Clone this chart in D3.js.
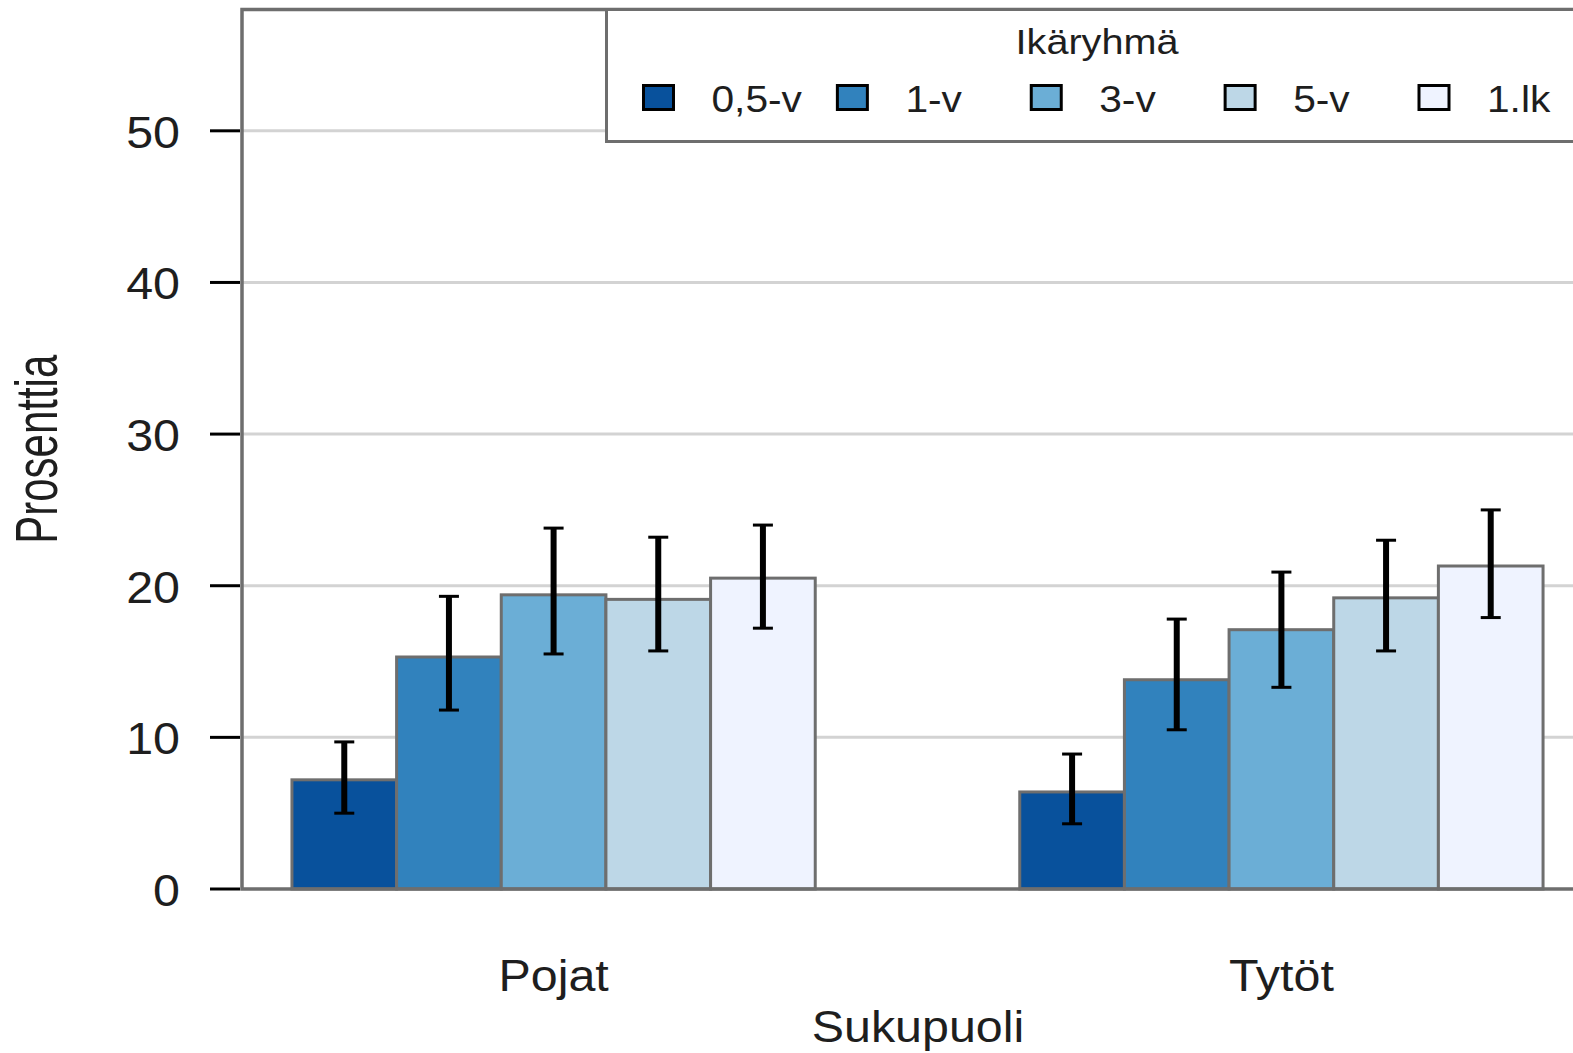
<!DOCTYPE html>
<html>
<head>
<meta charset="utf-8">
<script src="https://cdn.jsdelivr.net/npm/d3@7"></script>
<style>
  html, body { margin: 0; padding: 0; background: #fff; overflow: hidden; }
  svg text { font-family: "Liberation Sans", Arial, sans-serif; fill: #1e1e1e; }
</style>
</head>
<body>
<div id="chart"></div>
<script>
// groups, series and values
const groups  = ["Pojat", "Tytöt"];
const ages    = ["0,5-v", "1-v", "3-v", "5-v", "1.lk"];
const colors  = ["#08519c", "#3182bd", "#6baed6", "#bdd7e7", "#eff3ff"];
const pojat   = [7.2, 15.3, 19.4, 19.1, 20.5];
const pojatLo = [5.0, 11.8, 15.5, 15.7, 17.2];
const pojatHi = [9.7, 19.3, 23.8, 23.2, 24.0];
const tytot   = [6.4, 13.8, 17.1, 19.2, 21.3];
const tytotLo = [4.3, 10.5, 13.3, 15.7, 17.9];
const tytotHi = [8.9, 17.8, 20.9, 23.0, 25.0];
const yTicks  = [0, 10, 20, 30, 40, 50];

const rows = [];
groups.forEach((g, gi) => {
  const v  = gi === 0 ? pojat : tytot;
  const lo = gi === 0 ? pojatLo : tytotLo;
  const hi = gi === 0 ? pojatHi : tytotHi;
  ages.forEach((a, i) => rows.push({ group: g, age: a, value: v[i], lo: lo[i], hi: hi[i] }));
});

const W = 1573, H = 1053;
const plot = { left: 242, right: 1594, top: 9.5, bottom: 889 };
const grey = "#6e6e6e";
const SX = 1.1; // text in the picture runs a bit wide

const svg = d3.select("#chart").append("svg").attr("width", W).attr("height", H);

const x0 = d3.scaleBand().domain(groups).range([241, plot.right]).paddingInner(0.281).paddingOuter(0.07);
const x1 = d3.scaleBand().domain(ages).range([0, x0.bandwidth()]);
const y  = d3.scaleLinear().domain([0, 58]).range([plot.bottom, plot.top]);
const color = d3.scaleOrdinal().domain(ages).range(colors);

function label(g, txt, x, yy, size, anchor) {
  return g.append("text")
    .attr("transform", `translate(${x},${yy}) scale(${SX},1)`)
    .attr("text-anchor", anchor || "middle")
    .style("font-size", size + "px")
    .text(txt);
}

// grid
svg.append("g").selectAll("line").data(yTicks.filter(t => t > 0)).join("line")
  .attr("x1", plot.left).attr("x2", plot.right)
  .attr("y1", d => y(d)).attr("y2", d => y(d))
  .attr("stroke", "#d3d3d3").attr("stroke-width", 3);

// bars
svg.append("g").selectAll("rect").data(rows).join("rect")
  .attr("x", d => x0(d.group) + x1(d.age))
  .attr("y", d => y(d.value))
  .attr("width", x1.bandwidth())
  .attr("height", d => y(0) - y(d.value))
  .attr("fill", d => color(d.age))
  .attr("stroke", grey).attr("stroke-width", 3);

// error bars
const eb = svg.append("g").attr("stroke", "#000");
const cx = d => x0(d.group) + x1(d.age) + x1.bandwidth() / 2;
eb.selectAll(".stem").data(rows).join("line").attr("class", "stem")
  .attr("x1", cx).attr("x2", cx)
  .attr("y1", d => y(d.lo)).attr("y2", d => y(d.hi))
  .attr("stroke-width", 6);
eb.selectAll(".capHi").data(rows).join("line").attr("class", "capHi")
  .attr("x1", d => cx(d) - 10).attr("x2", d => cx(d) + 10)
  .attr("y1", d => y(d.hi)).attr("y2", d => y(d.hi))
  .attr("stroke-width", 3);
eb.selectAll(".capLo").data(rows).join("line").attr("class", "capLo")
  .attr("x1", d => cx(d) - 10).attr("x2", d => cx(d) + 10)
  .attr("y1", d => y(d.lo)).attr("y2", d => y(d.lo))
  .attr("stroke-width", 3);

// frame
svg.append("path")
  .attr("d", `M${plot.right},${plot.top}H${plot.left}V${plot.bottom}H${plot.right}`)
  .attr("fill", "none").attr("stroke", grey).attr("stroke-width", 3.5);

// y axis ticks + labels
const ya = svg.append("g");
ya.selectAll("line").data(yTicks).join("line")
  .attr("x1", 210).attr("x2", plot.left - 2)
  .attr("y1", d => y(d)).attr("y2", d => y(d))
  .attr("stroke", "#000").attr("stroke-width", 3);
yTicks.forEach(t => label(ya, String(t), 180, y(t) + 17, 44, "end"));

// x labels
groups.forEach(g => label(svg, g, x0(g) + x0.bandwidth() / 2, 991, 44));
label(svg, "Sukupuoli", (plot.left + plot.right) / 2, 1042, 44);

svg.append("text")
  .attr("transform", `translate(57,${(plot.top + plot.bottom) / 2}) rotate(-90) scale(1,1.43)`)
  .attr("text-anchor", "middle")
  .style("font-size", "42px")
  .text("Prosenttia");

// legend
const lg = svg.append("g");
lg.append("rect")
  .attr("x", 606.5).attr("y", plot.top)
  .attr("width", plot.right - 606.5).attr("height", 141.5 - plot.top)
  .attr("fill", "#fff").attr("stroke", grey).attr("stroke-width", 3);
label(lg, "Ikäryhmä", 1097, 54, 36);
const lx = d3.scalePoint().domain(ages).range([658.5, 1434]);
ages.forEach(a => {
  lg.append("rect")
    .attr("x", lx(a) - 15).attr("y", 85.5)
    .attr("width", 30).attr("height", 24)
    .attr("fill", color(a)).attr("stroke", "#000").attr("stroke-width", 3);
  label(lg, a, lx(a) + 53, 112, 37, "start");
});
</script>
</body>
</html>
